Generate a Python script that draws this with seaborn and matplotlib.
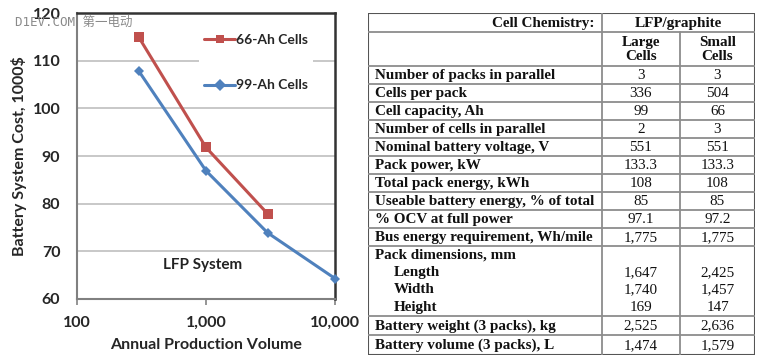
import pandas as pd
import matplotlib.pyplot as plt
import seaborn as sns
from matplotlib.ticker import FuncFormatter, NullLocator, FixedLocator

# 图表数据
series_names = ['66-Ah Cells', '99-Ah Cells']
volume_66 = [300, 1000, 3000]
cost_66 = [115.0, 91.8, 77.9]
volume_99 = [300, 1000, 3000, 10000]
cost_99 = [107.9, 86.9, 73.9, 64.3]

# 表格数据
header_left = 'Cell Chemistry:'
header_right = 'LFP/graphite'
col_names = ['Large\nCells', 'Small\nCells']
main_rows = ['Number of packs in parallel', 'Cells per pack', 'Cell capacity, Ah',
             'Number of cells in parallel', 'Nominal battery voltage, V', 'Pack power, kW',
             'Total pack energy, kWh', 'Useable battery energy, % of total',
             '% OCV at full power', 'Bus energy requirement, Wh/mile']
main_large = ['3', '336', '99', '2', '551', '133.3', '108', '85', '97.1', '1,775']
main_small = ['3', '504', '66', '3', '551', '133.3', '108', '85', '97.2', '1,775']
dim_title = 'Pack dimensions, mm'
dim_rows = ['Length', 'Width', 'Height']
dim_large = ['1,647', '1,740', '169']
dim_small = ['2,425', '1,457', '147']
tail_rows = ['Battery weight (3 packs), kg', 'Battery volume (3 packs), L']
tail_large = ['2,525', '1,474']
tail_small = ['2,636', '1,579']

sns.set_theme(style='white')
plt.rcParams['font.family'] = ['Lato', 'DejaVu Sans']

df = pd.DataFrame({
    'volume': volume_66 + volume_99,
    'cost': cost_66 + cost_99,
    'series': [series_names[0]] * len(volume_66) + [series_names[1]] * len(volume_99),
})

fig = plt.figure(figsize=(7.6, 3.6), dpi=100)
ax = fig.add_axes([77 / 760, 1 - 299 / 360, 258 / 760, 286 / 360])

sns.lineplot(data=df, x='volume', y='cost', hue='series', style='series',
             hue_order=series_names, style_order=series_names,
             palette=['#c0504d', '#4f81bd'], markers={series_names[0]: 's', series_names[1]: 'D'},
             dashes=False, linewidth=2.2, markeredgewidth=0, ax=ax)
for line, ms in zip(ax.get_lines(), [7.5, 5]):
    line.set_markersize(ms)
    line.set_clip_on(False)
    line.set_zorder(5)

ax.set_xscale('log')
ax.set_xlim(100, 10000)
ax.set_ylim(60, 120)
ax.set_yticks(range(60, 121, 10))
ax.xaxis.set_major_locator(FixedLocator([100, 1000, 10000]))
ax.xaxis.set_minor_locator(NullLocator())
ax.xaxis.set_major_formatter(FuncFormatter(lambda v, p: f'{int(v):,}'))
ax.yaxis.grid(True, color='#bfbfbf', linewidth=1.2)
ax.tick_params(axis='x', bottom=True, length=4, color='#888888', labelsize=11.5, pad=8)
ax.tick_params(axis='y', left=False, labelsize=11.5, pad=6)
for t in ax.get_xticklabels() + ax.get_yticklabels():
    t.set_fontweight('bold')
for side in ['top', 'right']:
    ax.spines[side].set_color('#333333')
    ax.spines[side].set_linewidth(1.8)
for side in ['left', 'bottom']:
    ax.spines[side].set_color('#808080')
    ax.spines[side].set_linewidth(1.5)

ax.set_xlabel('Annual Production Volume', fontsize=11.5, fontweight='bold', labelpad=6)
ax.set_ylabel('Battery System Cost, 1000\\$', fontsize=11.5, fontweight='bold', labelpad=4)

leg = ax.legend(loc='upper left', bbox_to_anchor=(0.445, 0.97), frameon=True,
                facecolor='white', edgecolor='none', framealpha=1, fancybox=False,
                labelspacing=2.4, handlelength=2.2, handletextpad=0.05,
                prop={'size': 10, 'weight': 'bold'})
leg.set_title(None)

ax.text(0.485, 0.12, 'LFP System', transform=ax.transAxes, ha='center', va='center',
        fontsize=11, fontweight='bold', color='#222222')

fig.text(15 / 760, 1 - 22 / 360, 'D1EV.COM 第一电动', fontsize=9, color='#8a8a8a',
         va='center', ha='left', family=['DejaVu Sans Mono', 'Noto Sans CJK SC'])

# 表格
tx = fig.add_axes([368 / 760, 1 - 355 / 360, 387 / 760, 342 / 360])
tx.set_xlim(0, 387)
tx.set_ylim(342, 0)
tx.axis('off')

cx = [0, 234, 312, 387]
row_h = 18
y_main = [53 + row_h * i for i in range(len(main_rows) + 1)]
y_dim = [y_main[-1], y_main[-1] + 70]
y_tail = [y_dim[1], y_dim[1] + 19, 342]

fs = 10.9
tfont = dict(family=['Liberation Serif', 'DejaVu Serif'], fontsize=fs, fontweight='bold', color='#111111')
vfont = dict(family=['Liberation Serif', 'DejaVu Serif'], fontsize=fs, color='#111111')
grid_c = '#8c8c8c'

# 横线
for yy in [19, 53] + y_main[1:] + [y_dim[1], y_tail[1]]:
    tx.plot([0, 387], [yy, yy], color=grid_c, lw=1.3)
# 竖线
tx.plot([cx[1], cx[1]], [0, 342], color=grid_c, lw=1.3)
tx.plot([cx[2], cx[2]], [19, 342], color=grid_c, lw=1.3)
tx.add_patch(plt.Rectangle((0, 0), 387, 342, fill=False, edgecolor='#555555', lw=1.5))

tx.text(cx[1] - 8, 10, header_left, ha='right', va='center', **tfont)
tx.text((cx[1] + cx[3]) / 2, 10, header_right, ha='center', va='center', **tfont)
for i, name in enumerate(col_names):
    tx.text((cx[i + 1] + cx[i + 2]) / 2, 36.5, name, ha='center', va='center',
            linespacing=1.1, **tfont)

def put_row(label, a, b, y, indent=7):
    tx.text(indent, y, label, ha='left', va='center', **tfont)
    tx.text((cx[1] + cx[2]) / 2, y, a, ha='center', va='center', **vfont)
    tx.text((cx[2] + cx[3]) / 2, y, b, ha='center', va='center', **vfont)

for i, lab in enumerate(main_rows):
    put_row(lab, main_large[i], main_small[i], y_main[i] + row_h / 2 + 0.5)

tx.text(7, y_dim[0] + 9, dim_title, ha='left', va='center', **tfont)
for i, lab in enumerate(dim_rows):
    put_row(lab, dim_large[i], dim_small[i], y_dim[0] + 26.5 + 17.3 * i, indent=26)

for i, lab in enumerate(tail_rows):
    put_row(lab, tail_large[i], tail_small[i], (y_tail[i] + y_tail[i + 1]) / 2 + 0.5)

fig.savefig('out.png', dpi=100)
